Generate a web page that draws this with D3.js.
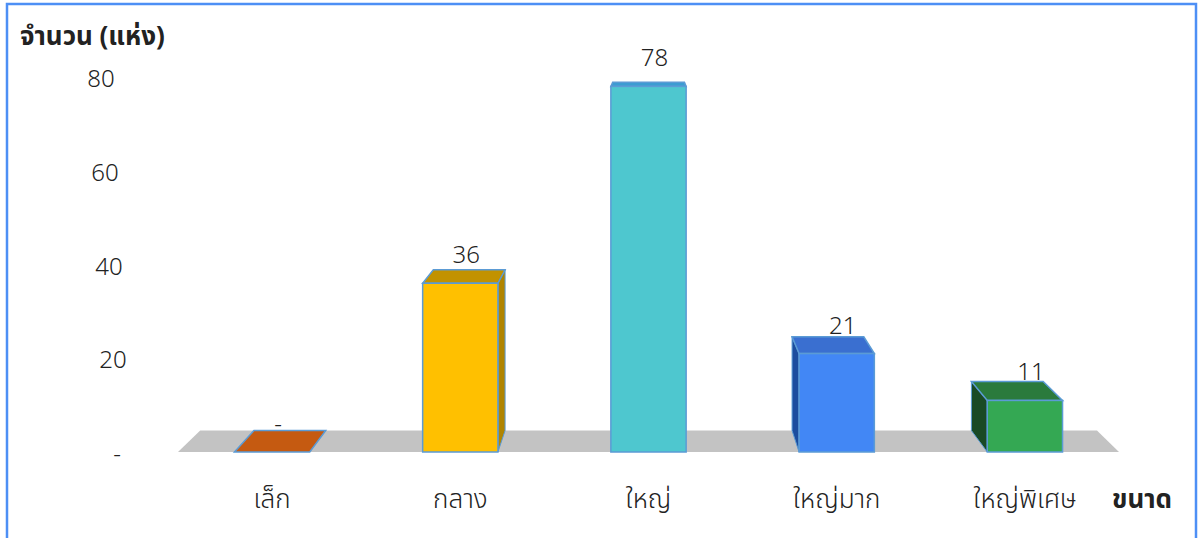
<!DOCTYPE html>
<html>
<head>
<meta charset="utf-8">
<script src="https://cdn.jsdelivr.net/npm/d3@7"></script>
<style>
  body { margin: 0; background: #fff; }
  svg { display: block; font-family: "Noto Sans Thai", "Leelawadee UI", Tahoma, "Noto Sans", sans-serif; }
  .tick-label, .value { font-size: 24px; fill: #222; font-weight: 300; }
  .cat-label { font-size: 26px; fill: #222; font-weight: 300; }
  .title { font-size: 26px; font-weight: bold; fill: #222; }
</style>
</head>
<body>
<svg width="1199" height="538"></svg>
<script>
const categories = ['เล็ก', 'กลาง', 'ใหญ่', 'ใหญ่มาก', 'ใหญ่พิเศษ'];
const values = [0, 36, 78, 21, 11];
const valueLabels = ['-', '36', '78', '21', '11'];
const yTicks = [0, 20, 40, 60, 80];
const yTickLabels = ['-', '20', '40', '60', '80'];
const frontColors = ['#c55a11', '#ffc000', '#4ec7cf', '#4287f5', '#34a853'];
const topColors = ['#c55a11', '#c29200', '#3c9cd2', '#3a6fd0', '#2a7a3c'];
const sideColors = ['#8a3e0c', '#b08400', '#2f8f98', '#1c4d9e', '#1a4a25'];

const svg = d3.select('svg');

// border
svg.append('rect')
  .attr('x', 7).attr('y', 4)
  .attr('width', 1189).attr('height', 560)
  .attr('fill', 'none')
  .attr('stroke', '#4d8ff5')
  .attr('stroke-width', 2.5);

const floorLeft = 178;
const floorRight = 1119;
const baseY = 452;

const xScale = d3.scaleBand()
  .domain(categories)
  .range([floorLeft, floorRight])
  .padding(0);

const yScale = d3.scaleLinear()
  .domain([0, 80])
  .range([baseY, 77]);

// simple perspective: points recede toward a vanishing point
const vp = [650, -4];
const depth = 0.047;
const back = ([x, y]) => [x + depth * (vp[0] - x), y + depth * (vp[1] - y)];
const poly = pts => pts.map(p => p.join(',')).join(' ');

// floor
const f0 = [floorLeft, baseY], f1 = [floorRight, baseY];
svg.append('polygon')
  .attr('points', poly([f0, f1, back(f1), back(f0)]))
  .attr('fill', '#c3c3c3');

const bw = xScale.bandwidth();
const barW = bw * 0.4;

const data = categories.map((c, i) => ({
  key: c, value: values[i], label: valueLabels[i],
  front: frontColors[i], top: topColors[i], side: sideColors[i]
}));

const bars = svg.append('g').selectAll('g')
  .data(data)
  .enter()
  .append('g');

bars.each(function (d) {
  const g = d3.select(this);
  const x0 = xScale(d.key) + (bw - barW) / 2;
  const x1 = x0 + barW;
  const yt = yScale(d.value);
  const ftl = [x0, yt], ftr = [x1, yt], fbl = [x0, baseY], fbr = [x1, baseY];
  const cx = (x0 + x1) / 2;
  const stroke = '#5b9bd5';

  // side face
  if (d.value > 0) {
    let side;
    if (cx < vp[0] - 20) side = [ftr, back(ftr), back(fbr), fbr];
    else if (cx > vp[0] + 20) side = [ftl, back(ftl), back(fbl), fbl];
    if (side) {
      g.append('polygon')
        .attr('points', poly(side))
        .attr('fill', d.side)
        .attr('stroke', stroke)
        .attr('stroke-width', 1);
    }
  }
  // top face
  g.append('polygon')
    .attr('points', poly([ftl, ftr, back(ftr), back(ftl)]))
    .attr('fill', d.top)
    .attr('stroke', stroke)
    .attr('stroke-width', 1.5);
  // front face
  if (d.value > 0) {
    g.append('rect')
      .attr('x', x0).attr('y', yt)
      .attr('width', barW).attr('height', baseY - yt)
      .attr('fill', d.front)
      .attr('stroke', stroke)
      .attr('stroke-width', 1.5);
  }
  // value label
  g.append('text')
    .attr('class', 'value')
    .attr('text-anchor', 'middle')
    .attr('x', cx + 6)
    .attr('y', yt - 20)
    .text(d.label);
});

// y tick labels (slightly slanted like the 3D axis)
svg.append('g').selectAll('text')
  .data(yTicks)
  .enter()
  .append('text')
  .attr('class', 'tick-label')
  .attr('text-anchor', 'middle')
  .attr('dominant-baseline', 'central')
  .attr('x', v => 101 + (80 - v) * 0.2)
  .attr('y', v => yScale(v) + 3)
  .text((v, i) => yTickLabels[i]);

// category labels
svg.append('g').selectAll('text')
  .data(categories)
  .enter()
  .append('text')
  .attr('class', 'cat-label')
  .attr('text-anchor', 'middle')
  .attr('x', c => xScale(c) + bw / 2)
  .attr('y', 508)
  .text(c => c);

svg.append('text')
  .attr('class', 'title')
  .attr('x', 20)
  .attr('y', 45)
  .text('จำนวน (แห่ง)');

svg.append('text')
  .attr('class', 'title')
  .attr('x', 1112)
  .attr('y', 508)
  .text('ขนาด');
</script>
</body>
</html>
